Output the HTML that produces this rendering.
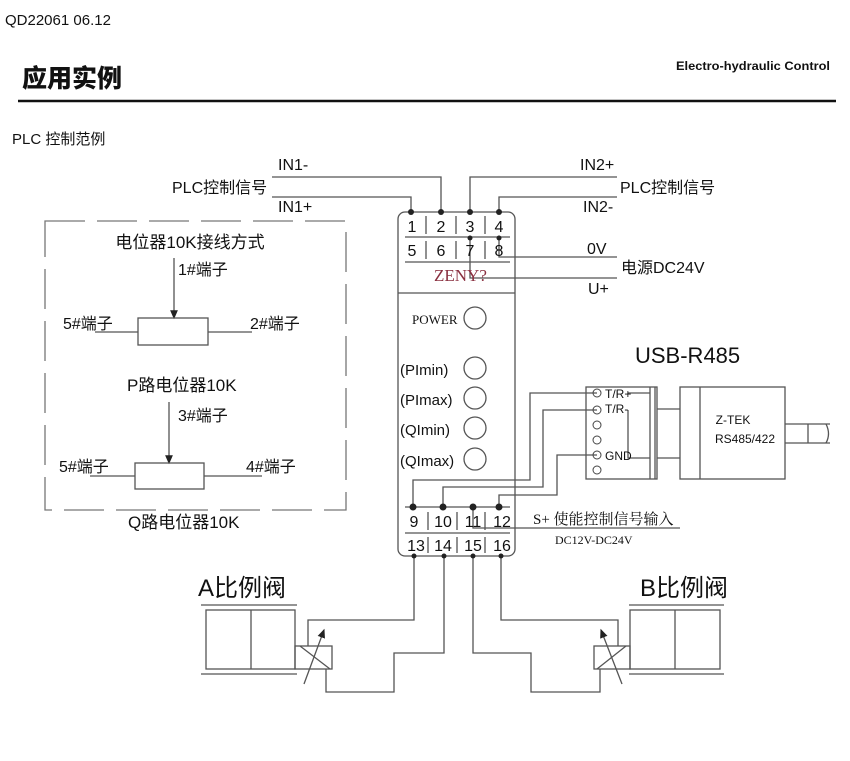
<!DOCTYPE html>
<html><head><meta charset="utf-8"><style>
html,body{margin:0;padding:0;background:#fff;}
svg{display:block;}
text{font-family:"Liberation Sans","Noto Sans CJK SC",sans-serif;fill:#111;}
.s{font-family:"Liberation Serif","Noto Serif CJK SC",serif;}
</style></head><body>
<svg width="850" height="761" viewBox="0 0 850 761" xmlns="http://www.w3.org/2000/svg">
<defs><marker id="ar" markerWidth="8" markerHeight="8" refX="6" refY="3" orient="auto"><path d="M0,0 L7,3 L0,6 z" fill="#222"/></marker></defs>
<g fill="none" stroke="#555" stroke-width="1.3">
<line x1="18" y1="101" x2="836" y2="101" stroke="#111" stroke-width="2.5"/>
<rect x="45" y="221" width="301" height="289" stroke-dasharray="40,12" stroke="#777"/>
<line x1="174" y1="258" x2="174" y2="318" marker-end="url(#ar)"/>
<rect x="138" y="318" width="70" height="27"/>
<line x1="95" y1="332" x2="138" y2="332"/><line x1="208" y1="332" x2="252" y2="332"/>
<line x1="169" y1="402" x2="169" y2="463" marker-end="url(#ar)"/>
<rect x="135" y="463" width="69" height="26"/>
<line x1="90" y1="476" x2="135" y2="476"/><line x1="204" y1="476" x2="262" y2="476"/>
<polyline points="272,177 441,177 441,212"/>
<polyline points="272,197 411,197 411,212"/>
<polyline points="617,177 470,177 470,212"/>
<polyline points="617,197 499,197 499,212"/>
<polyline points="617,257 499,257 499,238"/>
<polyline points="617,278 470,278 470,238"/>
<rect x="398" y="212" width="117" height="344" rx="7"/>
<line x1="405" y1="237" x2="510" y2="237"/>
<line x1="405" y1="262" x2="510" y2="262"/>
<line x1="398" y1="293" x2="515" y2="293"/>
<line x1="426" y1="216" x2="426" y2="234"/><line x1="456" y1="216" x2="456" y2="234"/><line x1="485" y1="216" x2="485" y2="234"/>
<line x1="426" y1="241" x2="426" y2="259"/><line x1="456" y1="241" x2="456" y2="259"/><line x1="485" y1="241" x2="485" y2="259"/>
<circle cx="475" cy="318" r="11"/><circle cx="475" cy="368" r="11"/><circle cx="475" cy="398" r="11"/><circle cx="475" cy="428" r="11"/><circle cx="475" cy="459" r="11"/>
<line x1="405" y1="507" x2="510" y2="507"/>
<line x1="405" y1="533" x2="510" y2="533"/>
<line x1="428" y1="512" x2="428" y2="530"/><line x1="457" y1="512" x2="457" y2="530"/><line x1="485" y1="512" x2="485" y2="530"/>
<line x1="428" y1="537" x2="428" y2="553"/><line x1="457" y1="537" x2="457" y2="553"/><line x1="485" y1="537" x2="485" y2="553"/>
<polyline points="597,393 530,393 530,480 413,480 413,507"/>
<polyline points="597,410 543,410 543,487 443,487 443,507"/>
<polyline points="597,455 557,455 557,495 499,495 499,507"/>
<polyline points="473,507 473,528 680,528"/>
<rect x="586" y="387" width="71" height="92"/>
<line x1="650" y1="387" x2="650" y2="479"/><line x1="655" y1="387" x2="655" y2="479"/>
<polyline points="628,393 650,393"/><polyline points="628,410 628,458 650,458"/>
<line x1="657" y1="409" x2="680" y2="409"/><line x1="657" y1="458" x2="680" y2="458"/>
<rect x="680" y="387" width="105" height="92"/><line x1="700" y1="387" x2="700" y2="479"/>
<line x1="785" y1="424" x2="830" y2="424"/><line x1="785" y1="443" x2="830" y2="443"/>
<line x1="808" y1="424" x2="808" y2="443"/><path d="M826,424 q5,10 0,19"/>
<line x1="201" y1="605" x2="297" y2="605"/><line x1="201" y1="674" x2="297" y2="674"/>
<rect x="206" y="610" width="89" height="59"/><line x1="251" y1="610" x2="251" y2="669"/>
<rect x="295" y="646" width="37" height="23"/>
<line x1="300" y1="646" x2="330" y2="669"/><line x1="304" y1="684" x2="324" y2="630" marker-end="url(#ar)"/>
<polyline points="414,556 414,620 308,620 308,646"/>
<polyline points="444,556 444,653 394,653 394,692 326,692 326,669"/>
<line x1="629" y1="605" x2="724" y2="605"/><line x1="629" y1="674" x2="724" y2="674"/>
<rect x="630" y="610" width="90" height="59"/><line x1="675" y1="610" x2="675" y2="669"/>
<rect x="594" y="646" width="36" height="23"/>
<line x1="626" y1="646" x2="597" y2="669"/><line x1="622" y1="684" x2="601" y2="630" marker-end="url(#ar)"/>
<polyline points="473,556 473,653 531,653 531,692 600,692 600,669"/>
<polyline points="501,556 501,620 618,620 618,646"/>
</g>
<g fill="#222">
<circle cx="411" cy="212" r="3"/><circle cx="441" cy="212" r="3"/><circle cx="470" cy="212" r="3"/><circle cx="499" cy="212" r="3"/>
<circle cx="470" cy="238" r="2.5"/><circle cx="499" cy="238" r="2.5"/>
<circle cx="413" cy="507" r="3.5"/><circle cx="443" cy="507" r="3.5"/><circle cx="473" cy="507" r="3.5"/><circle cx="499" cy="507" r="3.5"/>
<circle cx="414" cy="556" r="2.5"/><circle cx="444" cy="556" r="2.5"/><circle cx="473" cy="556" r="2.5"/><circle cx="501" cy="556" r="2.5"/>
</g>
<g fill="none" stroke="#444" stroke-width="1">
<circle cx="597" cy="393" r="4"/><circle cx="597" cy="410" r="4"/><circle cx="597" cy="425" r="4"/><circle cx="597" cy="440" r="4"/><circle cx="597" cy="455" r="4"/><circle cx="597" cy="470" r="4"/>
</g>
<text x="5" y="25" font-size="15">QD22061 06.12</text>
<text x="22" y="87" font-size="25" font-weight="900">应用实例</text>
<text x="676" y="70" font-size="12" font-weight="bold" textLength="154" lengthAdjust="spacingAndGlyphs">Electro-hydraulic   Control</text>
<text x="12" y="144" font-size="15">PLC 控制范例</text>
<text x="278" y="170" font-size="16">IN1-</text>
<text x="172" y="193" font-size="16">PLC控制信号</text>
<text x="278" y="212" font-size="16">IN1+</text>
<text x="580" y="170" font-size="16">IN2+</text>
<text x="620" y="193" font-size="16">PLC控制信号</text>
<text x="583" y="212" font-size="16">IN2-</text>
<text x="587" y="254" font-size="16">0V</text>
<text x="621" y="273" font-size="16">电源DC24V</text>
<text x="588" y="294" font-size="16">U+</text>
<g font-size="16" text-anchor="middle">
<text x="412" y="232">1</text><text x="441" y="232">2</text><text x="470" y="232">3</text><text x="499" y="232">4</text>
<text x="412" y="256">5</text><text x="441" y="256">6</text><text x="470" y="256">7</text><text x="499" y="256">8</text>
<text x="414" y="527">9</text><text x="443" y="527">10</text><text x="473" y="527">11</text><text x="502" y="527">12</text>
<text x="416" y="551">13</text><text x="443" y="551">14</text><text x="473" y="551">15</text><text x="502" y="551">16</text>
</g>
<text x="434" y="281" font-size="17" class="s" style="fill:#8a3040">ZENY?</text>
<text x="412" y="324" font-size="13" class="s">POWER</text>
<text x="400" y="375" font-size="15">(PImin)</text>
<text x="400" y="405" font-size="15">(PImax)</text>
<text x="400" y="435" font-size="15">(QImin)</text>
<text x="400" y="466" font-size="15">(QImax)</text>
<text x="533" y="524" font-size="15" class="s">S+ 使能控制信号输入</text>
<text x="555" y="544" font-size="12" class="s">DC12V-DC24V</text>
<text x="635" y="363" font-size="22">USB-R485</text>
<text x="605" y="398" font-size="12">T/R+</text>
<text x="605" y="413" font-size="12">T/R-</text>
<text x="605" y="460" font-size="12">GND</text>
<text x="733" y="424" font-size="12" text-anchor="middle">Z-TEK</text>
<text x="745" y="443" font-size="12" text-anchor="middle">RS485/422</text>
<text x="190" y="248" font-size="17" text-anchor="middle">电位器10K接线方式</text>
<text x="178" y="275" font-size="16">1#端子</text>
<text x="63" y="329" font-size="16">5#端子</text>
<text x="250" y="329" font-size="16">2#端子</text>
<text x="127" y="391" font-size="17">P路电位器10K</text>
<text x="178" y="421" font-size="16">3#端子</text>
<text x="59" y="472" font-size="16">5#端子</text>
<text x="246" y="472" font-size="16">4#端子</text>
<text x="128" y="528" font-size="17">Q路电位器10K</text>
<text x="198" y="596" font-size="24">A比例阀</text>
<text x="640" y="596" font-size="24">B比例阀</text>
</svg>
</body></html>
